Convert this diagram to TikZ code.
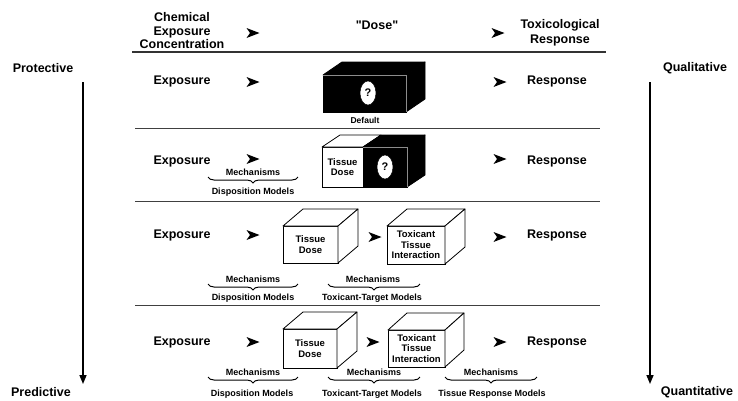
\documentclass[tikz,border=0pt]{standalone}
\usepackage{fontspec}
\setmainfont{Liberation Sans}
\usetikzlibrary{decorations.pathreplacing,arrows.meta,shapes.geometric}
\begin{document}
\begin{tikzpicture}[x=1pt,y=-1pt,
  big/.style={font=\fontsize{12.5}{14}\selectfont\bfseries, align=center, inner sep=0pt},
  small/.style={font=\fontsize{9}{10}\selectfont\bfseries, align=center, inner sep=0pt},
  boxtext/.style={font=\fontsize{9.5}{10.5}\selectfont\bfseries, align=center},
  wfront/.style={draw, line width=0.8pt, fill=white, inner sep=0pt, outer sep=0pt},
  bfront/.style={draw, line width=0.8pt, fill=black, inner sep=0pt, outer sep=0pt},
  wface/.style={draw, line width=0.8pt, fill=white, line join=round},
  bface/.style={draw, line width=0.8pt, fill=black, line join=round},
  inner/.style={draw=black!45, line width=0.4pt},
  qmark/.style={ellipse, fill=white, draw=black, line width=0.5pt, inner sep=0pt, minimum width=16pt, minimum height=24pt, font=\fontsize{11}{12}\selectfont\bfseries},
  sepline/.style={line width=1pt, black!75},
  mbrace/.style={decorate, decoration={brace, mirror, amplitude=6pt}, line width=1pt},
  varrow/.style={line width=1.5pt, -{Triangle[length=9pt,width=7pt]}},
]
\useasboundingbox (0,0) rectangle (738,400);
\newcommand{\tri}[1]{\fill (#1) ++(6.5,0) -- ++(-13,-5) -- ++(3.5,5) -- ++(-3.5,5) -- cycle;}

% header
\node[big, font=\fontsize{12.5}{13.5}\selectfont\bfseries] (chem) at (182,31) {Chemical\\Exposure\\Concentration};
\coordinate (h1) at (253,33);
\node[big] (dose) at (377,25) {\textquotedbl Dose\textquotedbl};
\coordinate (h2) at (498,33);
\node[big, font=\fontsize{12.5}{15.5}\selectfont\bfseries] (tox) at (560,33) {Toxicological\\Response};
\tri{h1} \tri{h2}
\coordinate (hl1) at (132,52); \coordinate (hl2) at (606,52);
\draw[line width=1.6pt, black!80] (hl1) -- (hl2);

% side labels
\node[big] (prot) at (43,68) {Protective};
\node[big] (pred) at (41,392) {Predictive};
\node[big] (qual) at (695,68) {Qualitative};
\node[big] (quan) at (697,392) {Quantitative};
\coordinate (la) at (83,82); \coordinate (lb) at (83,384);
\coordinate (ra) at (650,82); \coordinate (rb) at (650,384);
\draw[varrow] (la) -- (lb);
\draw[varrow] (ra) -- (rb);

% separators
\coordinate (s1a) at (135,128); \coordinate (s1b) at (600,128);
\coordinate (s2a) at (135,201); \coordinate (s2b) at (600,201);
\coordinate (s3a) at (135,305); \coordinate (s3b) at (600,305);
\draw[sepline] (s1a) -- (s1b);
\draw[sepline] (s2a) -- (s2b);
\draw[sepline] (s3a) -- (s3b);

% ---------- row 1 ----------
\node[big] (e1) at (182,81) {Exposure};
\coordinate (a11) at (253,82); \tri{a11}
\node[bfront, minimum width=83pt, minimum height=37pt] (b1) at (364.5,93.5) {};
\path[bface] (b1.north west) -- ++(19,-13) -- ([shift={(19,-13)}]b1.north east) -- (b1.north east) -- cycle;
\path[bface] (b1.north east) -- ++(19,-13) -- ([shift={(19,-13)}]b1.south east) -- (b1.south east) -- cycle;
\draw[inner] (b1.north west) -- (b1.north east) -- (b1.south east);
\node[qmark] (q1) at (368,93) {?};
\node[small, font=\fontsize{8.5}{10}\selectfont\bfseries] (def) at (365,120) {Default};
\coordinate (a12) at (500,82); \tri{a12}
\node[big] (r1) at (557,81) {Response};

% ---------- row 2 ----------
\node[big] (e2) at (182,161) {Exposure};
\coordinate (a21) at (253,159); \tri{a21}
\node[wfront, boxtext, minimum width=41pt, minimum height=40pt] (td2) at (342.5,167) {Tissue\\Dose};
\node[bfront, minimum width=44pt, minimum height=40pt, anchor=west] (bk2) at (td2.east) {};
\path[wface] (td2.north west) -- ++(18,-12) -- ([shift={(18,-12)}]td2.north east) -- (td2.north east) -- cycle;
\path[bface] (bk2.north west) -- ++(18,-12) -- ([shift={(18,-12)}]bk2.north east) -- (bk2.north east) -- cycle;
\path[bface] (bk2.north east) -- ++(18,-12) -- ([shift={(18,-12)}]bk2.south east) -- (bk2.south east) -- cycle;
\draw[inner] (bk2.north west) -- (bk2.north east) -- (bk2.south east);
\node[qmark] (q2) at (385,167) {?};
\coordinate (a22) at (500,159); \tri{a22}
\node[big] (r2) at (557,161) {Response};
\node[small] (m21) at (253,172) {Mechanisms};
\coordinate (br21a) at (208,177); \coordinate (br21b) at (298,177);
\draw[mbrace] (br21a) -- (br21b);
\node[small] (d21) at (253,192) {Disposition Models};

% ---------- row 3 ----------
\node[big] (e3) at (182,235) {Exposure};
\coordinate (a31) at (253,235); \tri{a31}
\node[wfront, boxtext, minimum width=55pt, minimum height=37pt] (td3) at (310.5,244.5) {Tissue\\Dose};
\path[wface] (td3.north west) -- ++(20,-17) -- ([shift={(20,-17)}]td3.north east) -- (td3.north east) -- cycle;
\path[wface] (td3.north east) -- ++(20,-17) -- ([shift={(20,-17)}]td3.south east) -- (td3.south east) -- cycle;
\coordinate (a32) at (375,237); \tri{a32}
\node[wfront, boxtext, minimum width=58pt, minimum height=38pt] (tt3) at (416,245) {Toxicant\\Tissue\\Interaction};
\path[wface] (tt3.north west) -- ++(20,-17) -- ([shift={(20,-17)}]tt3.north east) -- (tt3.north east) -- cycle;
\path[wface] (tt3.north east) -- ++(20,-17) -- ([shift={(20,-17)}]tt3.south east) -- (tt3.south east) -- cycle;
\coordinate (a33) at (500,237); \tri{a33}
\node[big] (r3) at (557,235) {Response};
\node[small] (m31) at (253,279) {Mechanisms};
\coordinate (br31a) at (208,284); \coordinate (br31b) at (298,284);
\draw[mbrace] (br31a) -- (br31b);
\node[small] (d31) at (253,298) {Disposition Models};
\node[small] (m32) at (373,279) {Mechanisms};
\coordinate (br32a) at (328,284); \coordinate (br32b) at (420,284);
\draw[mbrace] (br32a) -- (br32b);
\node[small] (d32) at (372,298) {Toxicant-Target Models};

% ---------- row 4 ----------
\node[big] (e4) at (182,342) {Exposure};
\coordinate (a41) at (253,342); \tri{a41}
\node[wfront, boxtext, minimum width=54pt, minimum height=39pt] (td4) at (310,348.5) {Tissue\\Dose};
\path[wface] (td4.north west) -- ++(20,-17) -- ([shift={(20,-17)}]td4.north east) -- (td4.north east) -- cycle;
\path[wface] (td4.north east) -- ++(20,-17) -- ([shift={(20,-17)}]td4.south east) -- (td4.south east) -- cycle;
\coordinate (a42) at (373,342); \tri{a42}
\node[wfront, boxtext, minimum width=57pt, minimum height=37pt] (tt4) at (416.5,348.5) {Toxicant\\Tissue\\Interaction};
\path[wface] (tt4.north west) -- ++(19,-17) -- ([shift={(19,-17)}]tt4.north east) -- (tt4.north east) -- cycle;
\path[wface] (tt4.north east) -- ++(19,-17) -- ([shift={(19,-17)}]tt4.south east) -- (tt4.south east) -- cycle;
\coordinate (a43) at (500,342); \tri{a43}
\node[big] (r4) at (557,342) {Response};
\node[small] (m41) at (253,372) {Mechanisms};
\coordinate (br41a) at (208,377); \coordinate (br41b) at (298,377);
\draw[mbrace] (br41a) -- (br41b);
\node[small] (d41) at (252,394) {Disposition Models};
\node[small] (m42) at (374,372) {Mechanisms};
\coordinate (br42a) at (328,377); \coordinate (br42b) at (420,377);
\draw[mbrace] (br42a) -- (br42b);
\node[small] (d42) at (372,394) {Toxicant-Target Models};
\node[small] (m43) at (491,372) {Mechanisms};
\coordinate (br43a) at (445,377); \coordinate (br43b) at (537,377);
\draw[mbrace] (br43a) -- (br43b);
\node[small] (d43) at (492,394) {Tissue Response Models};
\end{tikzpicture}
\end{document}
